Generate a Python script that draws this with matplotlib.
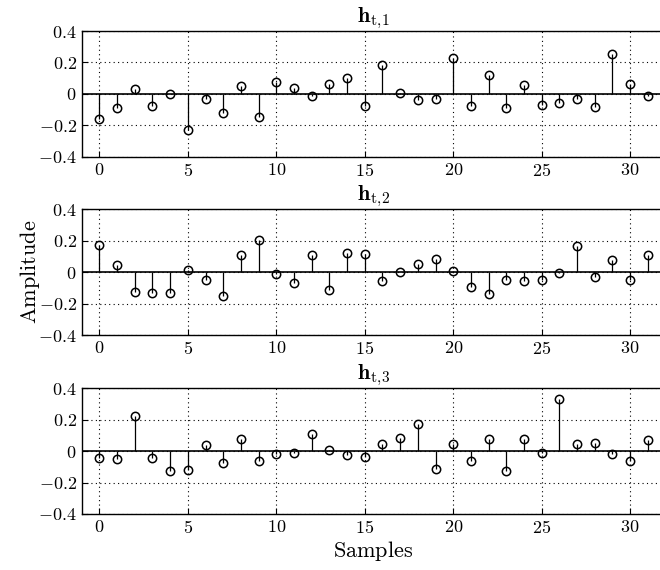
import matplotlib
matplotlib.use("Agg")
import matplotlib.pyplot as plt
import numpy as np
from matplotlib.ticker import FuncFormatter

plt.rcParams['mathtext.fontset'] = 'cm'
plt.rcParams['font.family'] = 'serif'
plt.rcParams['font.serif'] = ['cmr10', 'DejaVu Serif']
plt.rcParams['axes.unicode_minus'] = False

samples = list(range(32))
h1 = [-0.162, -0.087, 0.028, -0.077, 0.0, -0.228, -0.030, -0.119, 0.047, -0.147,
      0.074, 0.038, -0.015, 0.064, 0.098, -0.077, 0.183, 0.006, -0.040, -0.030,
      0.226, -0.077, 0.121, -0.091, 0.057, -0.074, -0.057, -0.032, -0.081, 0.251,
      0.062, -0.011]
h2 = [0.170, 0.045, -0.126, -0.134, -0.134, 0.015, -0.047, -0.153, 0.106, 0.202,
      -0.013, -0.072, 0.109, -0.111, 0.121, 0.113, -0.057, 0.004, 0.049, 0.081,
      0.006, -0.094, -0.136, -0.047, -0.057, -0.047, -0.004, 0.168, -0.032, 0.077,
      -0.053, 0.111]
h3 = [-0.043, -0.047, 0.221, -0.045, -0.126, -0.123, 0.036, -0.077, 0.079, -0.062,
      -0.021, -0.011, 0.111, 0.006, -0.026, -0.036, 0.043, 0.083, 0.170, -0.111,
      0.045, -0.060, 0.077, -0.128, 0.077, -0.009, 0.334, 0.047, 0.053, -0.015,
      -0.060, 0.068]
series = [h1, h2, h3]
titles = [r'$\mathbf{h}_{\mathrm{t},\!1}$', r'$\mathbf{h}_{\mathrm{t},\!2}$', r'$\mathbf{h}_{\mathrm{t},\!3}$']
xticks = [0, 5, 10, 15, 20, 25, 30]
yticks = [-0.4, -0.2, 0, 0.2, 0.4]

W, H = 660, 570
fig = plt.figure(figsize=(W/100, H/100), dpi=100)

# axes pixel extents (top, bottom)
rows = [(31, 156.7), (209.3, 335), (388.3, 514)]
left_px, right_px = 81.7, 665.5

def fmt(v, pos):
    if abs(v) < 1e-9:
        return r'$0$'
    return r'$%s$' % ('%.1f' % v)

for (top, bot), vals, title in zip(rows, series, titles):
    ax = fig.add_axes([left_px/W, 1 - bot/H, (right_px-left_px)/W, (bot-top)/H])
    ml, sl, bl = ax.stem(samples, vals, linefmt='k-', markerfmt='ko', basefmt='k-')
    plt.setp(ml, markerfacecolor='none', markeredgecolor='k', markersize=6, markeredgewidth=1.1)
    plt.setp(sl, linewidth=0.9)
    plt.setp(bl, linewidth=1.2)
    bl.set_xdata([-1, 32])
    ax.set_xlim(-1, 32)
    ax.set_ylim(-0.4, 0.4)
    ax.set_xticks(xticks)
    ax.set_yticks(yticks)
    ax.yaxis.set_major_formatter(FuncFormatter(fmt))
    ax.xaxis.set_major_formatter(FuncFormatter(lambda v, p: r'$%d$' % v))
    ax.grid(True, linestyle=(0, (1, 3)), color='k', linewidth=0.8)
    ax.tick_params(direction='in', labelsize=13, length=4, width=0.8)
    for s in ax.spines.values():
        s.set_linewidth(1.0)
    ax.set_title(title, fontsize=16, pad=2)

fig.text(30/W, 1 - 272/H, r'$\mathrm{Amplitude}$', rotation=90, ha='center', va='center', fontsize=16)
fig.text(373/W, 1 - 551/H, r'$\mathrm{Samples}$', ha='center', va='center', fontsize=16)

fig.savefig('out.png', dpi=100)
